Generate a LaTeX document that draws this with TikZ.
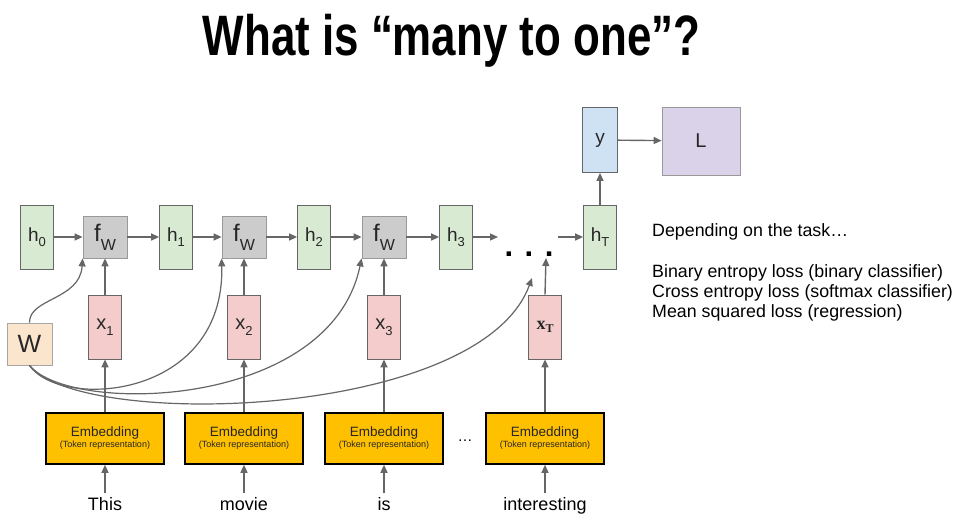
\documentclass[tikz,border=0pt]{standalone}
\usepackage{fontspec}
\setmainfont{Liberation Sans}
\newfontfamily\titlefont[FakeStretch=0.77]{Liberation Sans}
\newfontfamily\serifx{Liberation Serif}
\usetikzlibrary{arrows.meta}
\definecolor{hgreen}{HTML}{D9EAD3}
\definecolor{xred}{HTML}{F4CCCC}
\definecolor{yblue}{HTML}{CFE2F3}
\definecolor{lpurple}{HTML}{D9D2E9}
\definecolor{worange}{HTML}{FCE5CD}
\definecolor{fgray}{HTML}{CCCCCC}
\definecolor{embyellow}{HTML}{FFC000}
\definecolor{linegray}{HTML}{666666}
\newcommand{\fs}[1]{\fontsize{#1}{#1}\selectfont}
\newcommand{\hlbl}[1]{{\fs{19}h\raisebox{-5pt}{\fs{13}#1}}}
\newcommand{\xlbl}[1]{{\fs{20}x\raisebox{-6pt}{\fs{13}#1}}}
\newcommand{\flbl}{{\fs{24}f\raisebox{-9pt}{\fs{16}W}}}

\begin{document}
\begin{tikzpicture}[x=1pt,y=-1pt,
    box/.style={draw=linegray,line width=0.8pt,inner sep=0pt,text=black!85},
    hbox/.style={box,fill=hgreen,minimum width=33pt,minimum height=64pt},
    xbox/.style={box,fill=xred,minimum width=33pt,minimum height=64pt},
    fbox/.style={box,draw=black!40,fill=fgray,minimum width=44pt,minimum height=42pt},
    embbox/.style={draw=black,line width=1.6pt,fill=embyellow,inner sep=0pt,
      minimum width=118pt,minimum height=51pt,align=center,text=black!85},
    word/.style={anchor=base,font=\fs{18}},
    arr/.style={draw=linegray,line width=1.4pt,-{Triangle[length=8pt,width=7pt]}},
    wcurve/.style={draw=linegray,line width=1.2pt}]
  \fill[white] (0,0) rectangle (966,520);
  \useasboundingbox (0,0) rectangle (966,520);
  % title
  \node[anchor=base,font=\titlefont\bfseries\fs{57}] (title) at (451.5,55) {What is “many to one”?};
  % recurrent chain
  \node[hbox] (h0) at (37,237) {\hlbl{0}};
  \node[fbox] (f1) at (105,237) {\flbl};
  \node[hbox] (h1) at (176,237) {\hlbl{1}};
  \node[fbox] (f2) at (244,237) {\flbl};
  \node[hbox] (h2) at (314,237) {\hlbl{2}};
  \node[fbox] (f3) at (384,237) {\flbl};
  \node[hbox] (h3) at (456,237) {\hlbl{3}};
  \node[anchor=base,font=\bfseries\fs{31}] (dots) at (529,256) {. . .};
  \node[hbox] (hT) at (600,237) {\hlbl{T}};
  \coordinate (dl) at (498,237);
  \coordinate (dr) at (558,237);
  \coordinate (du) at (546,258);
  \coordinate (dw) at (532,278);
  % output and loss
  \node[box,fill=yblue,minimum width=35pt,minimum height=65pt,text height=10pt,text depth=4pt] (y) at (600,140) {\fs{19}y};
  \node[box,draw=black!40,fill=lpurple,minimum width=78pt,minimum height=68pt] (L) at (701,141) {\fs{20}L};
  % inputs
  \node[box,draw=black!35,fill=worange,minimum width=45pt,minimum height=42pt] (W) at (29.5,344) {\fs{25}W};
  \node[xbox] (x1) at (105,327) {\xlbl{1}};
  \node[xbox] (x2) at (244,327) {\xlbl{2}};
  \node[xbox] (x3) at (384,327) {\xlbl{3}};
  \node[xbox] (xT) at (545,327) {{\serifx\bfseries\fs{18}x\raisebox{-3pt}{\fs{12}T}}};
  % embeddings
  \foreach \i/\xx in {1/105,2/244,3/384,4/545}
    \node[embbox] (e\i) at (\xx,438.5) {{\fs{13.5}Embedding}\\[-1pt]{\fs{9}(Token representation)}};
  \node[font=\fs{15}] (edots) at (465,441) {…};
  \node[word] (w1) at (105,510) {This};
  \node[word] (w2) at (244,510) {movie};
  \node[word] (w3) at (384,510) {is};
  \node[word] (w4) at (545,510) {interesting};
  % right text
  \node[anchor=north west,align=left,inner sep=0pt,font=\fontsize{17.8}{19.7}\selectfont] (task) at (652,223)
    {Depending on the task…\\[22pt]Binary entropy loss (binary classifier)\\Cross entropy loss (softmax classifier)\\Mean squared loss (regression)};
  % arrows
  \draw[arr] (h0) -- (f1);
  \draw[arr] (f1) -- (h1);
  \draw[arr] (h1) -- (f2);
  \draw[arr] (f2) -- (h2);
  \draw[arr] (h2) -- (f3);
  \draw[arr] (f3) -- (h3);
  \draw[arr] (h3) -- (dl);
  \draw[arr] (dr) -- (hT);
  \draw[arr] (hT) -- (y);
  \draw[arr] (y) -- (L);
  \draw[arr] (x1) -- (f1);
  \draw[arr] (x2) -- (f2);
  \draw[arr] (x3) -- (f3);
  \draw[arr] (xT.north) -- (du);
  \foreach \i/\xn in {1/x1,2/x2,3/x3,4/xT} {
    \draw[arr] (e\i) -- (\xn);
    \draw[arr] (w\i.north) -- (e\i);
  }
  % shared weights
  \draw[wcurve,-{Triangle[length=8pt,width=7pt]}] (W.north) .. controls (29,298) and (80,300) .. (f1.south west);
  \draw[wcurve,-{Triangle[length=8pt,width=7pt]}] (W.south) .. controls (60,410) and (225,400) .. (f2.south west);
  \draw[wcurve,-{Triangle[length=8pt,width=7pt]}] (W.south) .. controls (70,415) and (330,410) .. (f3.south west);
  \draw[wcurve,-{Triangle[length=8pt,width=7pt]}] (W.south) .. controls (80,430) and (480,420) .. (dw);
\end{tikzpicture}
\end{document}
